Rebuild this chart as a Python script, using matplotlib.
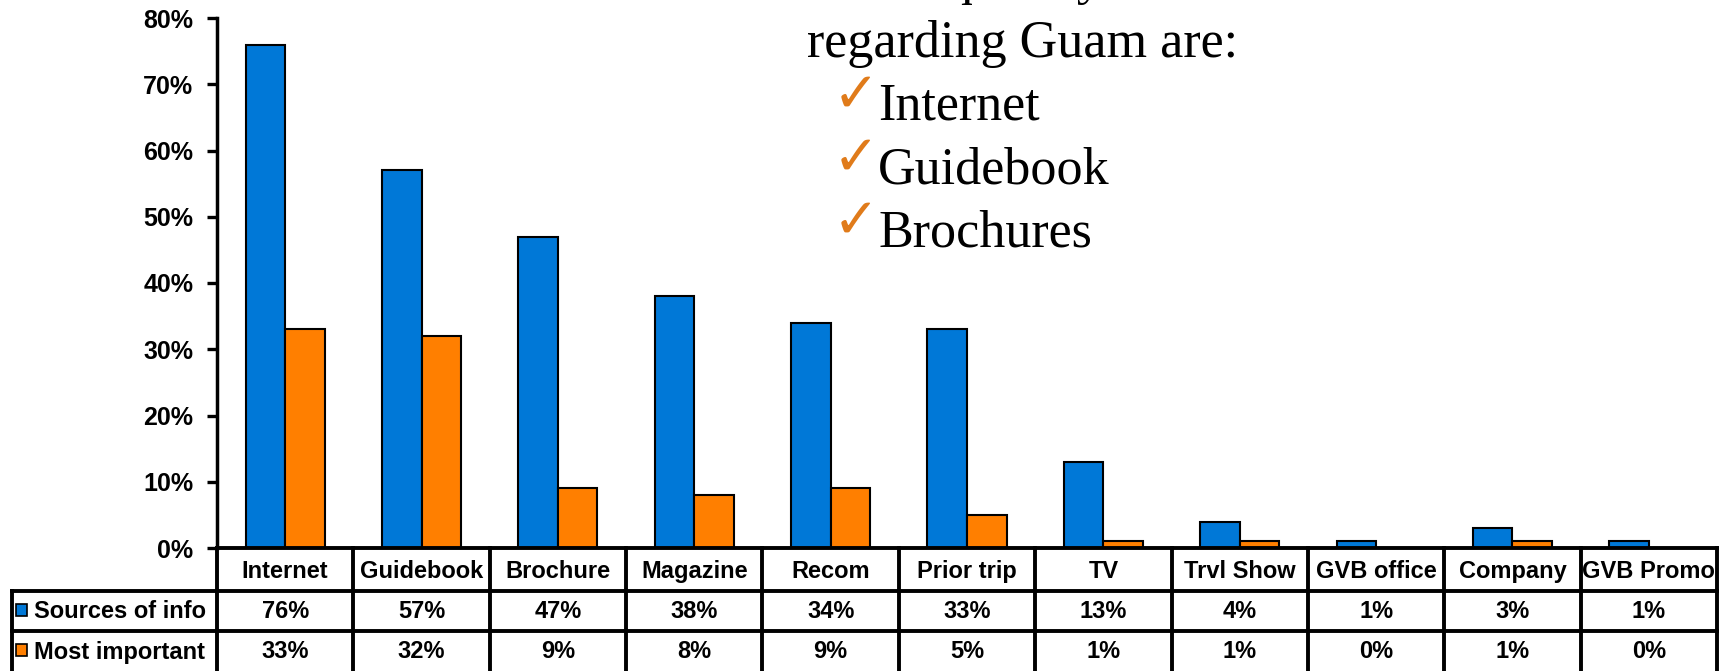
import matplotlib
matplotlib.use("Agg")
import matplotlib.pyplot as plt
import matplotlib.transforms as mtransforms
from matplotlib.patches import Rectangle

# Sources of travel information used by visitors to Guam
categories = ['Internet', 'Guidebook', 'Brochure', 'Magazine', 'Recom', 'Prior trip',
              'TV', 'Trvl Show', 'GVB office', 'Company', 'GVB Promo']
sources_of_info = [76, 57, 47, 38, 34, 33, 13, 4, 1, 3, 1]
most_important = [33, 32, 9, 8, 9, 5, 1, 1, 0, 1, 0]
series_names = ['Sources of info', 'Most important']
y_ticks = [0, 10, 20, 30, 40, 50, 60, 70, 80]
headline = ['Most frequently used sources of information',
            'regarding Guam are:']
highlights = ['Internet', 'Guidebook', 'Brochures']

BLUE = '#0078D7'
ORANGE = '#FF7F00'
CHECK = '#E07B1A'

W, H = 1720, 671
fig = plt.figure(figsize=(W / 100, H / 100), dpi=100)
ax = fig.add_axes([217 / W, (H - 548) / H, 1500 / W, 530 / H])

x = list(range(len(categories)))
bw = 0.29
ax.bar([i - bw / 2 for i in x], sources_of_info, bw, color=BLUE,
       edgecolor='black', linewidth=1.5, zorder=2)
ax.bar([i + bw / 2 for i in x], most_important, bw, color=ORANGE,
       edgecolor='black', linewidth=1.5, zorder=2)

ax.set_xlim(-0.5, len(categories) - 0.5)
ax.set_ylim(0, 80)
ax.set_yticks(y_ticks)
ax.set_yticklabels([f'{t}%' for t in y_ticks], fontsize=18, fontweight='bold',
                   family='Liberation Sans')
ax.tick_params(axis='y', length=7, width=2.4, pad=10)
ax.set_xticks([])
for s in ['top', 'right', 'bottom']:
    ax.spines[s].set_visible(False)
ax.spines['left'].set_linewidth(2.5)

# data table under the plot: x in category units, y in axes fraction
tr = mtransforms.blended_transform_factory(ax.transData, ax.transAxes)


def ay(py):
    return (548 - py) / 530


rows = [548, 591, 631, 674]
x_lo, x_hi = -0.5, len(categories) - 0.5
label_left = x_lo - 1.5
lw = 2.8
line_kw = dict(color='black', lw=lw, transform=tr, clip_on=False, zorder=5,
               solid_capstyle='projecting')

ax.plot([x_lo, x_hi], [ay(rows[0])] * 2, **line_kw)
for r in rows[1:]:
    ax.plot([label_left, x_hi], [ay(r)] * 2, **line_kw)
for k in range(len(categories) + 1):
    ax.plot([x_lo + k] * 2, [ay(rows[0]), ay(rows[-1])], **line_kw)
ax.plot([label_left] * 2, [ay(rows[1]), ay(rows[-1])], **line_kw)

txt_kw = dict(transform=tr, ha='center', va='center', fontsize=17,
              fontweight='bold', family='Liberation Sans', clip_on=False)
for i, name in enumerate(categories):
    ax.text(i, ay((rows[0] + rows[1]) / 2 + 2), name, **txt_kw)
    ax.text(i, ay((rows[1] + rows[2]) / 2 + 1), f'{sources_of_info[i]}%', **txt_kw)
    ax.text(i, ay(652), f'{most_important[i]}%', **txt_kw)

for j, (name, col) in enumerate(zip(series_names, [BLUE, ORANGE])):
    yc = (rows[1] + rows[2]) / 2 if j == 0 else 651
    ax.add_patch(Rectangle((label_left + 0.025, ay(yc + 5)), 0.08, 12 / 530,
                           facecolor=col, edgecolor='black', lw=1.2,
                           transform=tr, clip_on=False, zorder=6))
    ax.text(label_left + 0.16, ay(yc + 1), name, transform=tr, ha='left',
            va='center', fontsize=17, fontweight='bold',
            family='Liberation Sans', clip_on=False)

# headline text with checked items
serif = dict(family='Liberation Serif', fontsize=37.5, va='baseline')
fig.text(769 / W, 1 + 6 / H, headline[0], **serif)
fig.text(807 / W, 1 - 57 / H, headline[1], **serif)
for k, item in enumerate(highlights):
    base = 120 + 63 * k
    fig.text(833 / W, 1 - (base - 8) / H, '\u2713', color=CHECK,
             family='DejaVu Sans', fontsize=40, va='baseline')
    fig.text(878 / W, 1 - base / H, item, **serif)

fig.savefig('out.png', dpi=100)
